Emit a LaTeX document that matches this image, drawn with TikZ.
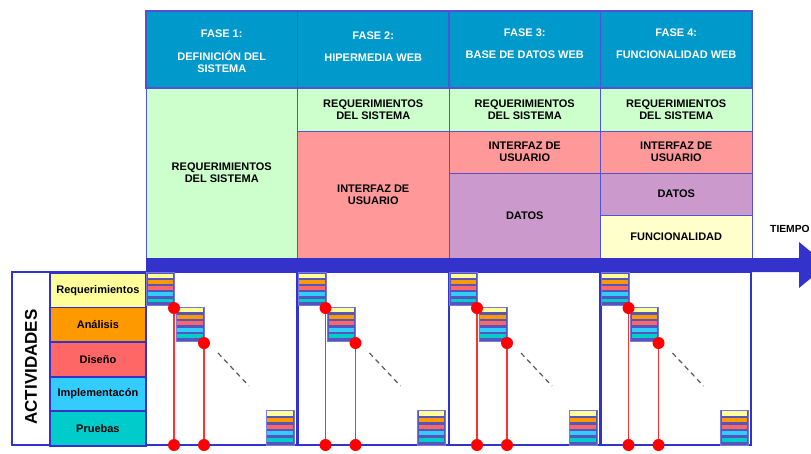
\documentclass[tikz,border=0pt]{standalone}
\usepackage{fontspec}
\setmainfont{Liberation Sans}
\definecolor{hdr}{RGB}{0,153,204}
\definecolor{grn}{RGB}{204,255,204}
\definecolor{pnk}{RGB}{255,153,153}
\definecolor{prp}{RGB}{204,153,204}
\definecolor{ylw}{RGB}{255,255,204}
\definecolor{frame}{RGB}{51,51,204}
\definecolor{areq}{RGB}{255,255,153}
\definecolor{aana}{RGB}{255,153,0}
\definecolor{adis}{RGB}{255,102,102}
\definecolor{aimp}{RGB}{51,204,255}
\definecolor{apru}{RGB}{0,204,204}
\definecolor{stkbg}{RGB}{85,85,190}
\definecolor{stkedge}{RGB}{120,120,225}
\newcommand\mystack[3]{%
  \fill[stkbg] (#1,#2) rectangle ++(28,#3);
  \foreach \c [count=\k from 0] in {areq,aana,adis,aimp,apru}
    \fill[\c] ({#1+1.3},{#2+1.3+\k*(#3-2)/5}) rectangle ++(25.4,{(#3-2)/5-2.4});
  \draw[stkedge, line width=1pt] (#1,#2) rectangle ++(28,#3);
}
\begin{document}
\begin{tikzpicture}[x=1pt,y=-1pt,
  font=\fontsize{11}{12}\selectfont\bfseries,
  cell/.style={draw=frame!85, line width=1pt, anchor=north west, inner sep=0pt,
    outer sep=0pt, minimum width=151.5pt, align=center},
  hcell/.style={cell, fill=hdr, line width=1.6pt, minimum height=77pt},
  htext/.style={text=white, align=center},
  actbox/.style={draw=frame, line width=1.8pt, anchor=north west, inner sep=0pt,
    minimum width=96pt, minimum height=34.6pt},
  dot/.style={circle, fill=red, inner sep=0pt, outer sep=0pt, minimum size=12pt},
  redline/.style={draw={rgb,255:red,255;green,50;blue,50}, line width=1.4pt},
  dashline/.style={draw=black!65, line width=1.2pt, dash pattern=on 5pt off 4pt},
  framel/.style={draw=frame, line width=2.4pt}
]
\useasboundingbox (0,0) rectangle (811,453);
\fill[white] (0,0) rectangle (811,453);

% headers
\node[hcell] (h1) at (146,11) {};
\node[hcell] (h2) at (297.5,11) {};
\node[hcell] (h3) at (449,11) {};
\node[hcell] (h4) at (600.5,11) {};
\node[htext] (ht1) at (221.75,51) {FASE 1:\\[11pt]DEFINICIÓN DEL\\SISTEMA};
\node[htext] (ht2) at (373.25,47) {FASE 2:\\[10pt]HIPERMEDIA WEB};
\node[htext] (ht3) at (524.75,44) {FASE 3:\\[10pt]BASE DE DATOS WEB};
\node[htext] (ht4) at (676.25,44) {FASE 4:\\[10pt]FUNCIONALIDAD WEB};

% contents
\node[cell, fill=grn, minimum height=170pt] (r1) at (146,88) {REQUERIMIENTOS\\DEL SISTEMA};
\node[cell, fill=grn, minimum height=43pt] (r2) at (297.5,88) {REQUERIMIENTOS\\DEL SISTEMA};
\node[cell, fill=pnk, minimum height=127pt] (i2) at (297.5,131) {INTERFAZ DE\\USUARIO};
\node[cell, fill=grn, minimum height=43pt] (r3) at (449,88) {REQUERIMIENTOS\\DEL SISTEMA};
\node[cell, fill=pnk, minimum height=42pt] (i3) at (449,131) {INTERFAZ DE\\USUARIO};
\node[cell, fill=prp, minimum height=85pt] (d3) at (449,173) {DATOS};
\node[cell, fill=grn, minimum height=43pt] (r4) at (600.5,88) {REQUERIMIENTOS\\DEL SISTEMA};
\node[cell, fill=pnk, minimum height=42pt] (i4) at (600.5,131) {INTERFAZ DE\\USUARIO};
\node[cell, fill=prp, minimum height=42pt] (d4) at (600.5,173) {DATOS};
\node[cell, fill=ylw, minimum height=43pt] (f4) at (600.5,215) {FUNCIONALIDAD};

% bottom frame
\draw[framel] (12,272) rectangle (751,445);
\foreach \xx in {146,297.5,449,600.5}
  \draw[framel] (\xx,272) -- (\xx,445);

% time arrow
\fill[frame] (146,258) -- (799,258) -- (799,242) -- (827,265) -- (799,288)
  -- (799,272) -- (146,272) -- cycle;
\node[anchor=base west, inner sep=0pt, font=\fontsize{10.3}{12}\selectfont\bfseries] (tiempo) at (770,232) {TIEMPO};

% activities
\node[rotate=90, font=\fontsize{17}{17}\selectfont\bfseries] (act) at (31,367) {ACTIVIDADES};
\node[actbox, fill=areq] (a1) at (49,272) {Requerimientos};
\node[actbox, fill=aana] (a2) at (49,306.6) {Análisis};
\node[actbox, fill=adis] (a3) at (49,341.2) {Diseño};
\node[actbox, fill=aimp] (a4) at (49,375.8) {Implementacón};
\node[actbox, fill=apru] (a5) at (49,410.4) {Pruebas};

% phases
\foreach \i in {0,1,2,3} {
  \pgfmathsetmacro\X{146+151.5*\i}
  \mystack{\X+0.5}{272.5}{33}
  \mystack{\X+30}{307}{34}
  \mystack{\X+120}{410}{35}
  \coordinate (ds\i) at (\X+72,353);
  \coordinate (de\i) at (\X+103,386);
  \draw[dashline] (ds\i) -- (de\i);
  \node[dot] (ta\i) at (\X+28,308) {};
  \node[dot] (tb\i) at (\X+58,343) {};
  \node[dot] (ba\i) at (\X+28,445) {};
  \node[dot] (bb\i) at (\X+58,445) {};
  \draw[redline] (ta\i.south) -- (ba\i.north);
  \draw[redline] (tb\i.south) -- (bb\i.north);
}
\end{tikzpicture}
\end{document}
